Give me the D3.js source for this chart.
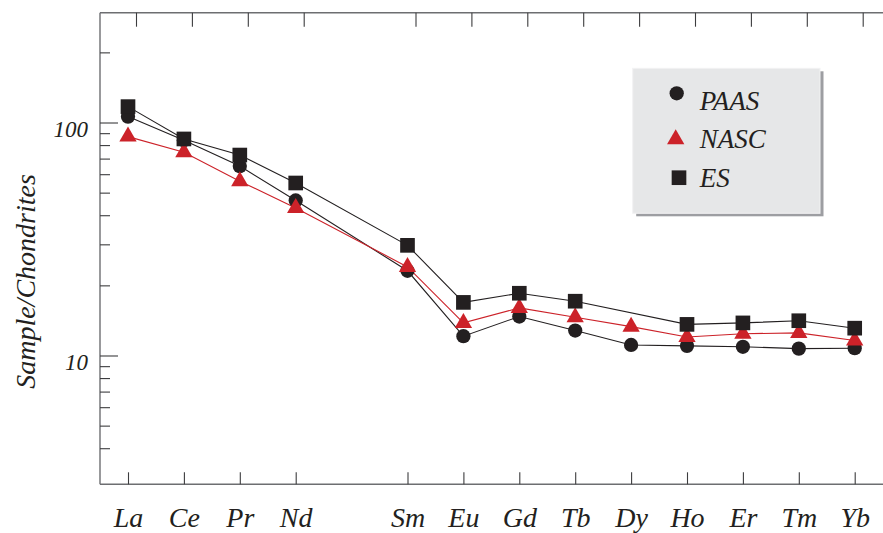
<!DOCTYPE html>
<html>
<head>
<meta charset="utf-8">
<script src="https://cdn.jsdelivr.net/npm/d3@7"></script>
<style>
  html, body { margin: 0; padding: 0; background: #fff; }
  svg { display: block; }
  text { font-family: "Liberation Serif", "DejaVu Serif", serif; font-style: italic; fill: #231f20; }
</style>
</head>
<body>
<svg id="chart" width="883" height="533"></svg>
<script>
// ---- data ----
const elements = ["La", "Ce", "Pr", "Nd", "Sm", "Eu", "Gd", "Tb", "Dy", "Ho", "Er", "Tm", "Yb"];
const atomicNumbers = [57, 58, 59, 60, 62, 63, 64, 65, 66, 67, 68, 69, 70];
const paas = [106, 84, 65, 46.3, 23.1, 12.1, 14.7, 12.8, 11.1, 11.0, 10.9, 10.7, 10.75];
const nasc = [87, 74.5, 56, 43, 24, 13.8, 16.0, 14.6, 13.3, 12.0, 12.4, 12.5, 11.6];
const es   = [117, 85, 72.5, 55, 29.7, 16.9, 18.5, 17.1, null, 13.6, 13.8, 14.1, 13.1];
const seriesNames = ["PAAS", "NASC", "ES"];
const yTickLabels = [10, 100];
const yMinorTicks = [4, 5, 6, 7, 8, 9, 20, 30, 40, 50, 60, 70, 80, 90, 200];
const yDomain = [2.8, 296];
const xDomain = [57, 70];
const yTitle = "Sample/Chondrites";

// ---- layout ----
const W = 883, H = 533;
const mLeft = 100, mTop = 12.7, mBottom = 484.3, mRight = W;
const svg = d3.select("#chart");

const x = d3.scaleLinear().domain(xDomain).range([128, 854.7]);
const xTop = x.copy().range([136, 862.7]);
const y = d3.scaleLog().domain(yDomain).range([mBottom, mTop]);

const axisColor = "#6d6e71";
const tickColor = "#3c3c3e";
const black = "#231f20";
const red = "#cc2229";

// frame lines (top, left, bottom)
svg.append("line").attr("x1", mLeft).attr("x2", mRight).attr("y1", mTop).attr("y2", mTop)
  .attr("stroke", axisColor).attr("stroke-width", 1.4);
svg.append("line").attr("x1", mLeft).attr("x2", mRight).attr("y1", mBottom).attr("y2", mBottom)
  .attr("stroke", axisColor).attr("stroke-width", 1.4);
svg.append("line").attr("x1", mLeft).attr("x2", mLeft).attr("y1", mTop).attr("y2", mBottom)
  .attr("stroke", axisColor).attr("stroke-width", 1.4);

// bottom axis (ticks inward)
const gx = svg.append("g").attr("transform", `translate(0,${mBottom})`)
  .call(d3.axisBottom(x).tickValues(atomicNumbers).tickSizeInner(-12).tickSizeOuter(0)
    .tickFormat((d, i) => elements[i]));
gx.select(".domain").remove();
gx.selectAll(".tick line").attr("stroke", tickColor).attr("stroke-width", 1.1);
gx.selectAll(".tick text").attr("font-size", 28).attr("dy", 0).attr("y", 43)
  .attr("font-family", "Liberation Serif").style("fill", black);

// top axis (ticks inward)
const gt = svg.append("g").attr("transform", `translate(0,${mTop})`)
  .call(d3.axisTop(xTop).tickValues(atomicNumbers).tickSizeInner(-14).tickSizeOuter(0).tickFormat(""));
gt.select(".domain").remove();
gt.selectAll(".tick line").attr("stroke", tickColor).attr("stroke-width", 1.1);

// left axis: major and minor ticks
const gyMinor = svg.append("g").attr("transform", `translate(${mLeft},0)`)
  .call(d3.axisLeft(y).tickValues(yMinorTicks).tickSizeInner(-10).tickSizeOuter(0).tickFormat(""));
gyMinor.select(".domain").remove();
gyMinor.selectAll(".tick line").attr("stroke", tickColor).attr("stroke-width", 1.1);

const gyMajor = svg.append("g").attr("transform", `translate(${mLeft},0)`)
  .call(d3.axisLeft(y).tickValues(yTickLabels).tickSizeInner(-18).tickSizeOuter(0)
    .tickFormat(d => String(d)));
gyMajor.select(".domain").remove();
gyMajor.selectAll(".tick line").attr("stroke", tickColor).attr("stroke-width", 1.1);
gyMajor.selectAll(".tick text").attr("font-size", 23).attr("x", -12).attr("dy", 14)
  .attr("text-anchor", "end").attr("font-family", "Liberation Serif").style("fill", black);

// y title
svg.append("text")
  .attr("transform", "translate(35,281.5) rotate(-90)")
  .attr("text-anchor", "middle")
  .attr("font-size", 28)
  .text(yTitle);

// ---- series ----
function pts(vals) {
  return atomicNumbers.map((a, i) => ({ a, v: vals[i] })).filter(d => d.v != null);
}
const line = d3.line().x(d => x(d.a)).y(d => y(d.v));

const series = [
  { name: seriesNames[0], vals: paas, color: black, symbol: d3.symbolCircle, size: 160 },
  { name: seriesNames[1], vals: nasc, color: red, symbol: d3.symbolTriangle, size: 130 },
  { name: seriesNames[2], vals: es, color: black, symbol: d3.symbolSquare, size: 215 }
];

series.forEach(s => {
  svg.append("path").datum(pts(s.vals)).attr("d", line)
    .attr("fill", "none").attr("stroke", s.color).attr("stroke-width", 1.1);
});
series.forEach(s => {
  svg.append("g").selectAll("path").data(pts(s.vals)).join("path")
    .attr("transform", d => `translate(${x(d.a)},${y(d.v)})`)
    .attr("d", d3.symbol().type(s.symbol).size(s.size))
    .attr("fill", s.color);
});

// ---- legend ----
const lg = svg.append("g").attr("transform", "translate(632.7,68.3)");
lg.append("rect").attr("x", 3.5).attr("y", 3).attr("width", 187.3).attr("height", 145).attr("fill", "#9d9ea2");
lg.append("rect").attr("x", 0).attr("y", 0).attr("width", 187.3).attr("height", 145)
  .attr("fill", "#e6e7e8").attr("stroke", "#f2f2f3").attr("stroke-width", 1);
const legendRows = [
  { mx: 44, my: 25, ty: 42 },
  { mx: 43, my: 71, ty: 79.5 },
  { mx: 46.3, my: 109.4, ty: 119 }
];
series.forEach((s, i) => {
  const r = legendRows[i];
  lg.append("path").attr("transform", `translate(${r.mx},${r.my})`)
    .attr("d", d3.symbol().type(s.symbol).size(s.size)).attr("fill", s.color);
  lg.append("text").attr("x", 67).attr("y", r.ty).attr("font-size", 27).text(s.name);
});
</script>
</body>
</html>
